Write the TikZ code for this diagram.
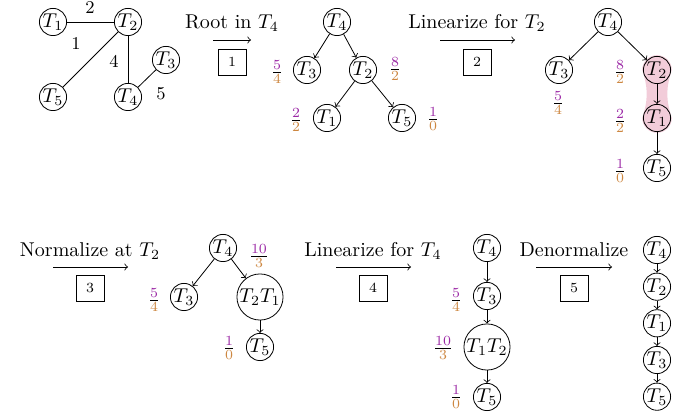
\documentclass[tikz,border=0pt]{standalone}
\usetikzlibrary{backgrounds}
\definecolor{numc}{RGB}{155,40,165}
\definecolor{denc}{RGB}{205,135,65}
\newcommand{\fr}[2]{$\frac{\textcolor{numc}{#1}}{\textcolor{denc}{#2}}$}
\begin{document}
\begin{tikzpicture}[x=0.5pt,y=-0.5pt,
  tn/.style={circle,draw,inner sep=0pt,minimum size=13.6pt},
  bn/.style={circle,draw,inner sep=0.3pt},
  stepbox/.style={draw,font=\scriptsize,minimum width=14pt,minimum height=13pt,inner sep=0pt},
  steptext/.style={anchor=base},
  wt/.style={font=\small},
  fl/.style={inner sep=0pt},
  hl/.style={fill=purple!20},
  >=to]
\useasboundingbox (0,0) rectangle (690,416);

% original graph
\node[tn] (g1) at (53,22) {$T_1$};
\node[tn] (g2) at (128,22) {$T_2$};
\node[tn] (g3) at (166,60) {$T_3$};
\node[tn] (g4) at (128,97) {$T_4$};
\node[tn] (g5) at (53,97) {$T_5$};
\draw (g1) -- (g2);
\draw (g2) -- (g5);
\draw (g2) -- (g4);
\draw (g4) -- (g3);
\node[wt] (w12) at (90,8) {2};
\node[wt] (w25) at (76,44) {1};
\node[wt] (w24) at (114,61) {4};
\node[wt] (w34) at (161,94) {5};

% step 1
\coordinate (s1a) at (213,40);
\coordinate (s1b) at (251,40);
\draw[->] (s1a) -- (s1b);
\node[steptext] (l1) at (232,29) {Root in $T_4$};
\node[stepbox] (x1) at (232,62) {1};

% tree A
\node[tn] (a4) at (337,22) {$T_4$};
\node[tn] (a3) at (307,70) {$T_3$};
\node[tn] (a2) at (363,70) {$T_2$};
\node[tn] (a1) at (327,118) {$T_1$};
\node[tn] (a5) at (402,118) {$T_5$};
\draw[->] (a4) -- (a3);
\draw[->] (a4) -- (a2);
\draw[->] (a2) -- (a1);
\draw[->] (a2) -- (a5);
\node[fl] (fa3) at (277,72) {\fr{5}{4}};
\node[fl] (fa2) at (395,69) {\fr{8}{2}};
\node[fl] (fa1) at (296,120) {\fr{2}{2}};
\node[fl] (fa5) at (433,119) {\fr{1}{0}};

% step 2
\coordinate (s2a) at (440,40);
\coordinate (s2b) at (515,40);
\draw[->] (s2a) -- (s2b);
\node[steptext] (l2) at (477,29) {Linearize for $T_2$};
\node[stepbox] (x2) at (477,62) {2};

% tree B
\node[tn] (b4) at (608,22) {$T_4$};
\node[tn] (b3) at (559,70) {$T_3$};
\node[tn,fill=purple!20] (b2) at (657,70) {$T_2$};
\node[tn,fill=purple!20] (b1) at (657,118) {$T_1$};
\node[tn] (b5) at (657,168) {$T_5$};
\begin{scope}[on background layer]
\fill[hl] ([xshift=-0.4pt]b2.west) arc[start angle=180,end angle=0,radius=7.4pt]
  .. controls ([xshift=-2.6pt,yshift=-9pt]b2.east) and ([xshift=-2.6pt,yshift=9pt]b1.east) .. ([xshift=0.4pt]b1.east)
  arc[start angle=0,end angle=-180,radius=7.4pt]
  .. controls ([xshift=2.6pt,yshift=9pt]b1.west) and ([xshift=2.6pt,yshift=-9pt]b2.west) .. ([xshift=-0.4pt]b2.west) -- cycle;
\end{scope}
\draw[->] (b4) -- (b3);
\draw[->] (b4) -- (b2);
\draw[->] (b2) -- (b1);
\draw[->] (b1) -- (b5);
\node[fl] (fb2) at (620,72) {\fr{8}{2}};
\node[fl] (fb3) at (558,103) {\fr{5}{4}};
\node[fl] (fb1) at (620,121) {\fr{2}{2}};
\node[fl] (fb5) at (620,171) {\fr{1}{0}};

% step 3
\coordinate (s3a) at (53,267);
\coordinate (s3b) at (128,267);
\draw[->] (s3a) -- (s3b);
\node[steptext] (l3) at (90,257) {Normalize at $T_2$};
\node[stepbox] (x3) at (90,288) {3};

% tree C
\node[tn] (c4) at (223,248) {$T_4$};
\node[tn] (c3) at (184,297) {$T_3$};
\node[bn] (c21) at (260,297) {$T_2T_1$};
\node[tn] (c5) at (260,347) {$T_5$};
\draw[->] (c4) -- (c3);
\draw[->] (c4) -- (c21);
\draw[->] (c21) -- (c5);
\node[fl] (fc21) at (259,256) {\fr{10}{3}};
\node[fl] (fc3) at (154,300) {\fr{5}{4}};
\node[fl] (fc5) at (229,348) {\fr{1}{0}};

% step 4
\coordinate (s4a) at (336,267);
\coordinate (s4b) at (411,267);
\draw[->] (s4a) -- (s4b);
\node[steptext] (l4) at (373,257) {Linearize for $T_4$};
\node[stepbox] (x4) at (373,288) {4};

% tree D
\node[tn] (d4) at (487,248) {$T_4$};
\node[tn] (d3) at (487,296) {$T_3$};
\node[bn] (d12) at (487,347) {$T_1T_2$};
\node[tn] (d5) at (487,397) {$T_5$};
\draw[->] (d4) -- (d3);
\draw[->] (d3) -- (d12);
\draw[->] (d12) -- (d5);
\node[fl] (fd3) at (456,300) {\fr{5}{4}};
\node[fl] (fd12) at (443,348) {\fr{10}{3}};
\node[fl] (fd5) at (456,397) {\fr{1}{0}};

% step 5
\coordinate (s5a) at (536,267);
\coordinate (s5b) at (612,267);
\draw[->] (s5a) -- (s5b);
\node[steptext] (l5) at (574,257) {Denormalize};
\node[stepbox] (x5) at (574,288) {5};

% tree E
\node[tn] (e4) at (657,250) {$T_4$};
\node[tn] (e2) at (657,286.7) {$T_2$};
\node[tn] (e1) at (657,323.3) {$T_1$};
\node[tn] (e3) at (657,360) {$T_3$};
\node[tn] (e5) at (657,396.7) {$T_5$};
\draw[->] (e4) -- (e2);
\draw[->] (e2) -- (e1);
\draw[->] (e1) -- (e3);
\draw[->] (e3) -- (e5);
\end{tikzpicture}
\end{document}
